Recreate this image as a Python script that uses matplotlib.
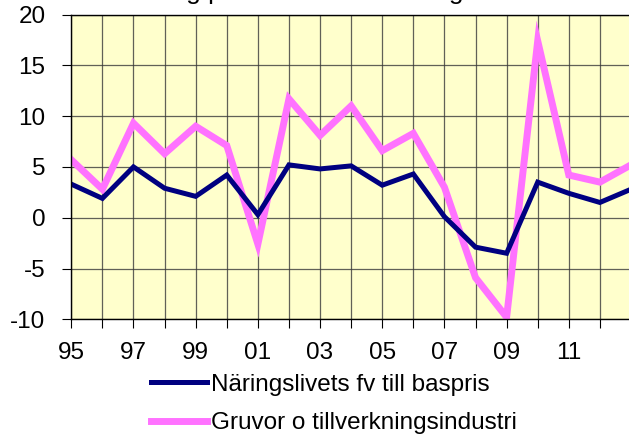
import numpy as np
import matplotlib
matplotlib.use('Agg')
import matplotlib.pyplot as plt

plt.rcParams['font.family'] = ['Liberation Sans', 'DejaVu Sans']
plt.rcParams['axes.unicode_minus'] = False

# ---- data (annual % change, 1995-2013)
years = ['95', '96', '97', '98', '99', '00', '01', '02', '03', '04',
         '05', '06', '07', '08', '09', '10', '11', '12', '13']
naringsliv = [3.3, 1.9, 5.0, 2.9, 2.1, 4.2, 0.3, 5.2, 4.8, 5.1,
              3.2, 4.3, 0.1, -2.9, -3.5, 3.5, 2.4, 1.5, 2.8]
gruvor = [5.7, 2.8, 9.3, 6.3, 9.0, 7.1, -2.6, 11.7, 8.1, 11.0,
          6.6, 8.3, 3.0, -5.9, -9.8, 17.4, 4.2, 3.5, 5.2]
shown_labels = ['95', '97', '99', '01', '03', '05', '07', '09', '11']

title = 'Årlig procentuell förändring'
label_nl = 'Näringslivets fv till baspris'
label_gr = 'Gruvor o tillverkningsindustri'

W, H = 629, 437
fig = plt.figure(figsize=(W / 100, H / 100), dpi=100)
ax = fig.add_axes([71.3 / W, (H - 319.3) / H, (631.0 - 71.3) / W, (319.3 - 14.5) / H])
ax.set_facecolor('#FFFFCC')

x = np.arange(len(years))
ax.plot(x, naringsliv, color='#000080', lw=3.6, solid_joinstyle='miter',
        label=label_nl, zorder=4)
ax.plot(x, gruvor, color='#FF72FF', lw=5.0, solid_joinstyle='miter',
        label=label_gr, zorder=3)

ax.set_xlim(0, 18)
ax.set_ylim(-10, 20)
ax.set_yticks(np.arange(-10, 21, 5))
ax.set_xticks(x)
ax.set_xticklabels([y if y in shown_labels else '' for y in years])

ax.grid(True, color='#3a3a3a', lw=0.9, alpha=0.8)
ax.set_axisbelow(True)
ax.spines['right'].set_visible(False)
for s in ['left', 'bottom', 'top']:
    ax.spines[s].set_color('black')
    ax.spines[s].set_linewidth(1.0)
    ax.spines[s].set_zorder(5)

ax.tick_params(axis='y', length=6.5, width=0.8, pad=12, labelsize=17.5)
ax.tick_params(axis='x', length=6.5, width=0.8, pad=10, labelsize=17.5)

# title sits mostly above the picture, only its lower part shows
fig.text(306 / W, 1 + 1.0 / H, title, ha='center', va='baseline', fontsize=19)

leg = fig.legend(loc='center', bbox_to_anchor=(334 / W, 1 - 404 / H),
                 frameon=False, fontsize=17.5, handlelength=2.3,
                 handletextpad=0.2, labelspacing=0.68, borderpad=0)

fig.savefig('out.png', dpi=100)
